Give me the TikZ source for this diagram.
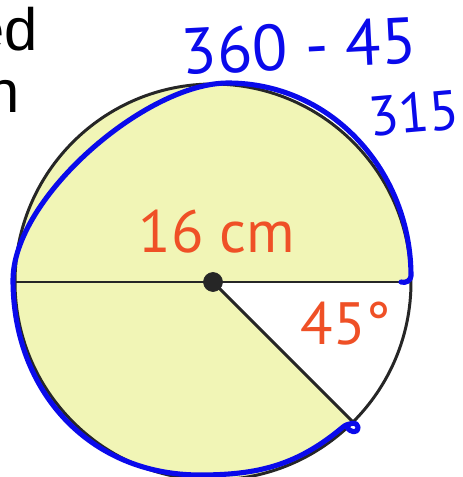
\documentclass[tikz,border=0pt]{standalone}
\usepackage{fontspec}
\usepackage{tikz}
\usetikzlibrary{positioning,calc}
\newfontfamily\labelfont{PT Sans}
\newfontfamily\pagefont{Liberation Sans}
\definecolor{pieyellow}{HTML}{F1F5B6}
\definecolor{labelred}{HTML}{EF5026}
\definecolor{penblue}{HTML}{0A0AEB}
\tikzset{
  pie/.style={fill=pieyellow},
  rim/.style={draw=black!85,line width=1.7pt},
  radius line/.style={draw=black!85,line width=1.7pt},
  centre/.style={draw=black!85,shape=circle,fill=black!85,minimum size=0.38cm,inner sep=0pt},
  measure/.style={text=labelred,font=\labelfont\fontsize{34}{40}\selectfont},
  pen/.style={draw=penblue,line width=2.9pt,line cap=round,line join=round},
  penlabel/.style={text=penblue,font=\labelfont\fontsize{37}{40}\selectfont},
  cut/.style={text=black,font=\pagefont\fontsize{34}{40}\selectfont,anchor=base east,inner sep=0pt}
 }
\begin{document}
\begin{tikzpicture}[x=0.02cm,y=0.02cm]
    \useasboundingbox (0,0) rectangle (463,477);
    \clip (0,0) rectangle (463,477);
    \coordinate (O) at (213,195);
    \coordinate (A) at (411,195);
    \coordinate (C) at (15,195);
    \coordinate (B) at ($(O)+(-45:198)$);
    \fill[pie] (O) -- (A) arc[start angle=0,end angle=315,radius=198] -- cycle;
    \draw[rim] (O) circle[radius=198];
    \draw[radius line] (C) -- (A);
    \draw[radius line] (O) -- (B);
    \node[centre] (o) at (O) {};
    \node[measure] (d) at (217,245) {16 cm};
    \node[measure] (t) at (346,153) {45°};
    % text cut off at the left edge
    \node[cut] (w1) at (38,426) {ed};
    \node[cut] (w2) at (20,364) {n};
    % pen marks
    \node[penlabel,rotate=3] (s) at (299,431) {360 - 45};
    \node[penlabel,rotate=5,scale=0.86] (r) at (414,364) {315};
    \draw[pen] (401,195) to[out=-20,in=-90] (411,201)
      to[out=90,in=0] (228,394)
      to[out=180,in=90,looseness=0.72] (13,197)
      to[out=-90,in=180,looseness=1.05] (200,2)
      to[out=0,in=220] (343,50)
      to[out=40,in=90] (358,50) to[out=-90,in=-60,looseness=1.6] (347,50);
\end{tikzpicture}
\end{document}
